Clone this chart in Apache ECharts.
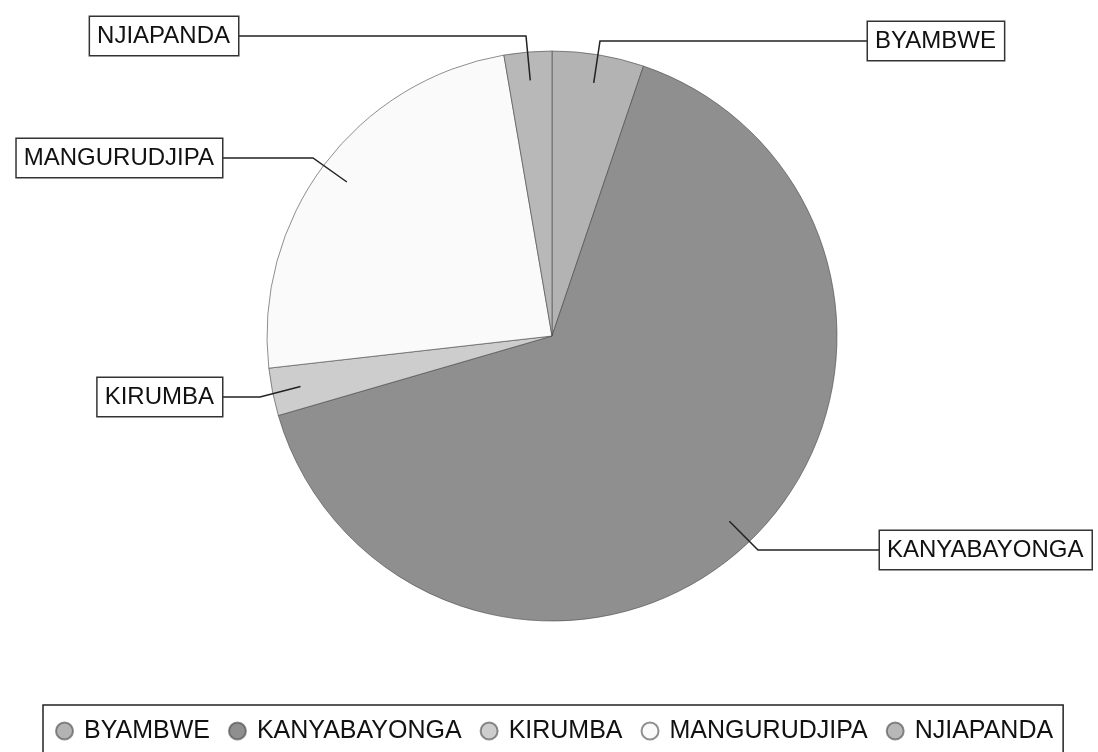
<!DOCTYPE html>
<html>
<head>
<meta charset="utf-8">
<script src="https://cdn.jsdelivr.net/npm/echarts@6/dist/echarts.min.js"></script>
<style>
  html, body { margin: 0; padding: 0; background: #fff; }
  #chart { width: 1098px; height: 752px; }
</style>
</head>
<body>
<div id="chart"></div>
<script>
// share of each locality (%)
var names = ['BYAMBWE', 'KANYABAYONGA', 'KIRUMBA', 'MANGURUDJIPA', 'NJIAPANDA'];
var values = [5.2, 65.3, 2.7, 24.1, 2.7];
var colors = ['#b3b3b3', '#8f8f8f', '#cdcdcd', '#fafafa', '#b8b8b8'];

// where each label box sits (edge x facing the pie, middle y) and the knee of its leader
var boxX = [868, 880, 222, 222, 238];
var boxY = [41, 550, 397, 158, 36];
var boxAlign = ['left', 'left', 'right', 'right', 'right'];
var kneeX = [600, 758, 260, 313, 526];

var cx = 552, cy = 336, radius = 285;

var pieData = names.map(function (n, i) {
    return { name: n, value: values[i] };
});

var chart = echarts.init(document.getElementById('chart'));

var option = {
    backgroundColor: '#fff',
    animation: false,
    color: colors,
    legend: {
        data: names,
        left: 43,
        top: 705,
        icon: 'circle',
        itemWidth: 17,
        itemHeight: 17,
        itemGap: 18,
        padding: [12, 10, 14, 12],
        borderColor: '#222',
        borderWidth: 1.5,
        textStyle: {
            fontFamily: 'Liberation Sans, Arial, sans-serif',
            fontSize: 25,
            color: '#111',
            lineHeight: 28,
            padding: [0, 0, 0, 6]
        }
    },
    series: [{
        // the slices
        type: 'pie',
        center: [cx, cy],
        radius: radius,
        startAngle: 90,
        clockwise: true,
        z: 2,
        emphasis: { disabled: true },
        itemStyle: {
            borderColor: 'rgba(70,70,70,0.6)',
            borderWidth: 1
        },
        label: { show: false },
        labelLine: { show: false },
        data: pieData
    }, {
        // same pie, transparent, only for the boxed labels and leaders drawn over the slices
        type: 'pie',
        center: [cx, cy],
        radius: radius,
        startAngle: 90,
        clockwise: true,
        z: 5,
        silent: true,
        emphasis: { disabled: true },
        itemStyle: {
            color: 'rgba(0,0,0,0)',
            borderWidth: 0
        },
        label: {
            show: true,
            position: 'outside',
            formatter: '{b}',
            fontFamily: 'Liberation Sans, Arial, sans-serif',
            fontSize: 24,
            color: '#111',
            backgroundColor: '#fff',
            borderColor: '#333',
            borderWidth: 1.5,
            padding: [8, 8, 6, 7]
        },
        labelLine: {
            show: true,
            lineStyle: { color: '#222', width: 1.5 }
        },
        labelLayout: function (params) {
            var i = params.dataIndex;
            var res = {
                x: boxX[i],
                y: boxY[i],
                align: boxAlign[i],
                verticalAlign: 'middle'
            };
            var pts = params.labelLinePoints;
            if (pts && pts.length) {
                // leader starts a bit inside the slice, on its middle ray
                var inner = [cx + (pts[0][0] - cx) * 0.9, cy + (pts[0][1] - cy) * 0.9];
                res.labelLinePoints = [inner, [kneeX[i], boxY[i]], [boxX[i], boxY[i]]];
            }
            return res;
        },
        data: pieData
    }]
};

chart.setOption(option);
</script>
</body>
</html>
